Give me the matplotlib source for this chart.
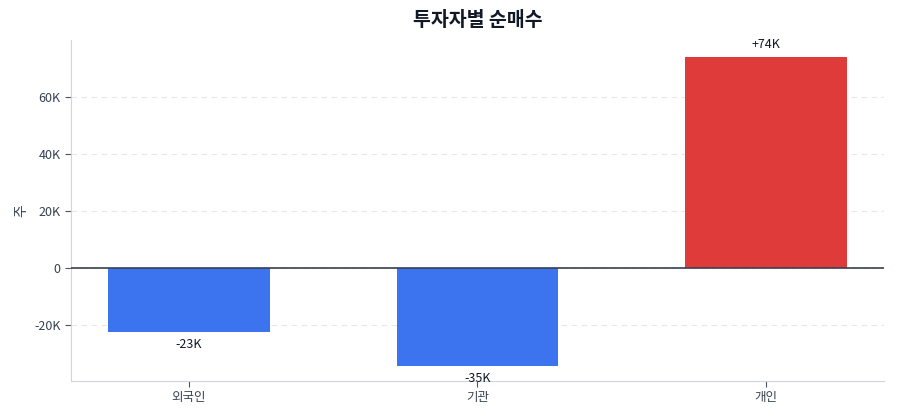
"""Net buying by investor type (Korean labels), bar chart."""
import matplotlib
matplotlib.use("Agg")
import matplotlib.pyplot as plt
from matplotlib.ticker import FuncFormatter

plt.rcParams["font.family"] = ["Noto Sans CJK KR", "DejaVu Sans"]

investors = ["외국인", "기관", "개인"]
net_buy = [-22700, -34600, 74000]
bar_labels = ["-23K", "-35K", "+74K"]

colors = ["#3b74ee" if v < 0 else "#e03b3b" for v in net_buy]

fig, ax = plt.subplots(figsize=(9, 4.2), dpi=100)
bars = ax.bar(investors, net_buy, width=0.56, color=colors, zorder=2)

ax.axhline(0, color="#374151", linewidth=1.2, zorder=3)
ax.set_ylim(min(net_buy) * 1.15, max(net_buy) * 1.08)
ax.yaxis.set_major_formatter(FuncFormatter(lambda v, _: "0" if v == 0 else f"{v / 1000:.0f}K"))
ax.grid(axis="y", linestyle=(0, (5, 4)), color="#e5e7eb", linewidth=0.8, zorder=0)
ax.set_axisbelow(True)

for b, v, lab in zip(bars, net_buy, bar_labels):
    if v >= 0:
        ax.annotate(lab, (b.get_x() + b.get_width() / 2, v), xytext=(0, 4),
                    textcoords="offset points", ha="center", va="bottom",
                    fontsize=9, color="#111827")
    else:
        ax.annotate(lab, (b.get_x() + b.get_width() / 2, v), xytext=(0, -4),
                    textcoords="offset points", ha="center", va="top",
                    fontsize=9, color="#111827")

for s in ["top", "right"]:
    ax.spines[s].set_visible(False)
for s in ["left", "bottom"]:
    ax.spines[s].set_color("#d1d5db")
ax.tick_params(axis="both", colors="#374151", labelsize=9, length=4)
ax.tick_params(axis="both", color="#4b5563")

ax.set_ylabel("주", fontsize=10, color="#374151")
ax.set_title("투자자별 순매수", fontsize=14, fontweight="bold", color="#111827", pad=10)

fig.subplots_adjust(left=0.079, right=0.982, top=0.905, bottom=0.093)
fig.savefig("out.png", dpi=100)
